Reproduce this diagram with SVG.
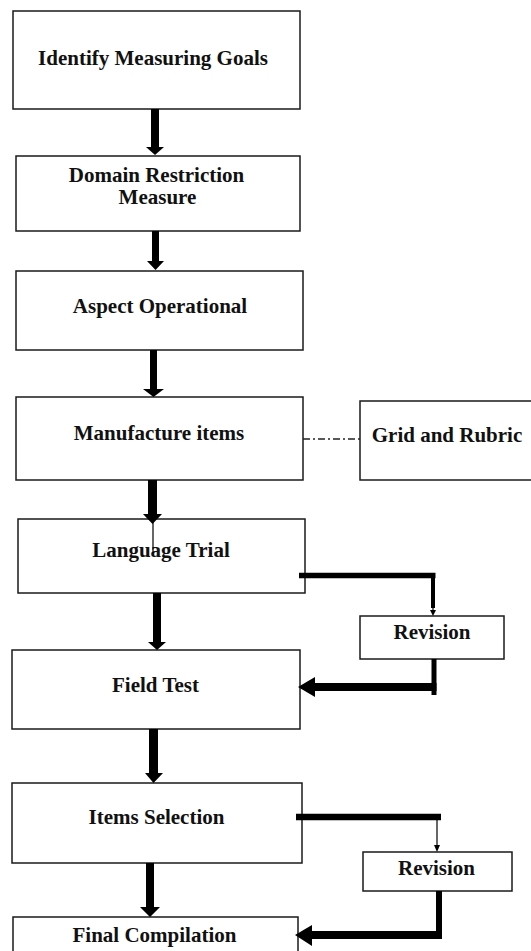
<svg xmlns="http://www.w3.org/2000/svg" width="531" height="951" viewBox="0 0 531 951">
<style>
.box{fill:#ffffff;stroke:#1a1a1a;stroke-width:1.5}
.lbl{font-family:"Liberation Serif","Times New Roman",serif;font-weight:bold;font-size:21px;fill:#111;text-anchor:middle}
.arr{fill:#000;stroke:none}
.thick{stroke:#000;fill:none;stroke-linecap:butt}
.thin{stroke:#000;stroke-width:1.2;fill:none}
.dash{stroke:#222;stroke-width:1.3;fill:none;stroke-dasharray:7 3 2 3}
</style>
<rect width="531" height="951" fill="#ffffff"/>
<g id="node-identify">
<rect class="box" x="13" y="11" width="287" height="98"/>
<text class="lbl" x="153" y="65">Identify Measuring Goals</text>
</g>
<g id="node-domain">
<rect class="box" x="16" y="156" width="284" height="75"/>
<text class="lbl" x="156.5" y="182">Domain Restriction</text>
<text class="lbl" x="157.5" y="204">Measure</text>
</g>
<g id="node-aspect">
<rect class="box" x="16" y="271" width="287" height="79"/>
<text class="lbl" x="160" y="313">Aspect Operational</text>
</g>
<g id="node-manufacture">
<rect class="box" x="16" y="397" width="287" height="83"/>
<text class="lbl" x="159" y="440">Manufacture items</text>
</g>
<g id="node-grid">
<rect class="box" x="360" y="401" width="180" height="79"/>
<text class="lbl" x="447" y="442">Grid and Rubric</text>
</g>
<g id="node-language">
<rect class="box" x="18" y="519" width="287" height="74"/>
<text class="lbl" x="161" y="557">Language Trial</text>
</g>
<g id="node-revision1">
<rect class="box" x="360" y="616" width="144" height="43"/>
<text class="lbl" x="432" y="639">Revision</text>
</g>
<g id="node-field">
<rect class="box" x="12" y="650" width="288" height="79"/>
<text class="lbl" x="155.5" y="692">Field Test</text>
</g>
<g id="node-items">
<rect class="box" x="12" y="783" width="290" height="80"/>
<text class="lbl" x="156.5" y="824">Items Selection</text>
</g>
<g id="node-revision2">
<rect class="box" x="363" y="852" width="149" height="39"/>
<text class="lbl" x="436.5" y="875">Revision</text>
</g>
<g id="node-final">
<rect class="box" x="13" y="917" width="285" height="50"/>
<text class="lbl" x="154.5" y="942">Final Compilation</text>
</g>
<g id="connectors">
<path class="arr" d="M151,109 H159 V147 H164 L155,155 L146,147 H151 Z"/>
<path class="arr" d="M152,231 H159 V261 H164 L155.5,270 L147,261 H152 Z"/>
<path class="arr" d="M150,350 H157 V389 H164 L153.5,397 L143,389 H150 Z"/>
<path class="arr" d="M148,480 H157 V514 H162 L152.5,524 L143,514 H148 Z"/>
<line class="thin" x1="153" y1="522" x2="153" y2="553"/>
<path class="arr" d="M153,593 H161 V642 H166 L157,650 L148,642 H153 Z"/>
<path class="arr" d="M149,729 H158 V773 H163 L153.5,783 L145,773 H149 Z"/>
<path class="arr" d="M146,863 H154 V907 H160 L150,917 L140,907 H146 Z"/>
<line class="dash" x1="303" y1="439" x2="360" y2="439"/>
<path class="thick" stroke-width="5.5" d="M299,575.5 H435.5"/>
<line class="thick" stroke-width="4" x1="433" y1="573" x2="433" y2="608"/>
<line class="thin" x1="433" y1="606" x2="433" y2="614"/>
<path class="arr" d="M430,610 H436 L433,616 Z"/>
<line class="thick" stroke-width="5" x1="434" y1="659" x2="434" y2="695"/>
<path class="thick" stroke-width="8" d="M313,687 H436.5"/>
<path class="arr" d="M298,687 L315,677 V697 Z"/>
<path class="thick" stroke-width="6.5" d="M296,817 H441"/>
<line class="thin" x1="437" y1="817" x2="437" y2="848"/>
<path class="arr" d="M434,845 H440 L437,852 Z"/>
<line class="thick" stroke-width="6" x1="439" y1="891" x2="439" y2="939"/>
<path class="thick" stroke-width="8" d="M310,935 H442"/>
<path class="arr" d="M295,935 L312,925 V946 Z"/>
</g>
</svg>
